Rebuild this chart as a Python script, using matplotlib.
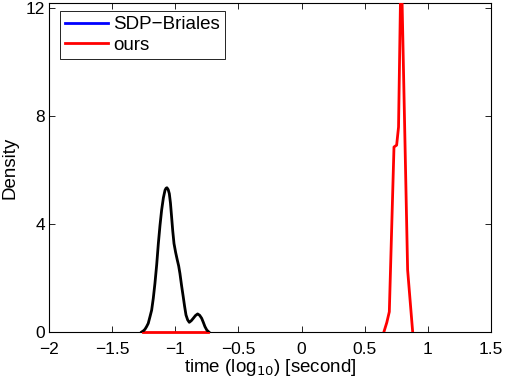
import matplotlib
matplotlib.use("Agg")
import matplotlib.pyplot as plt
from matplotlib.lines import Line2D

plt.rcParams['font.family'] = ['Liberation Sans', 'DejaVu Sans']

# SDP-Briales density (drawn in black)
briales_x = [-1.266, -1.253, -1.240, -1.227, -1.214, -1.200, -1.187, -1.174, -1.161,
             -1.147, -1.134, -1.121, -1.108, -1.094, -1.081, -1.073, -1.066, -1.056,
             -1.047, -1.038, -1.029, -1.020, -1.010, -0.997, -0.984, -0.973, -0.963,
             -0.950, -0.937, -0.926, -0.915, -0.902, -0.889, -0.873, -0.857, -0.840,
             -0.823, -0.807, -0.791, -0.778, -0.765, -0.750, -0.734]
briales_y = [0.0, 0.04, 0.1, 0.2, 0.32, 0.57, 0.81, 1.25, 1.8,
             2.5, 3.28, 3.95, 4.52, 4.98, 5.26, 5.33, 5.35, 5.28,
             5.13, 4.78, 4.27, 3.75, 3.28, 2.95, 2.67, 2.45, 2.17,
             1.72, 1.31, 0.95, 0.63, 0.45, 0.36, 0.42, 0.51, 0.61,
             0.67, 0.62, 0.51, 0.36, 0.2, 0.07, 0.0]

# ours density (red)
ours_x = [0.652, 0.675, 0.695, 0.732, 0.753, 0.768, 0.784, 0.795, 0.840, 0.880]
ours_y = [0.0, 0.35, 0.75, 6.86, 6.93, 7.6, 12.5, 12.5, 2.3, 0.0]

# red zero segment under the black curve
ours_zero_x = [-1.258, -0.74]
ours_zero_y = [0.0, 0.0]

legend_labels = ['SDP\u2212Briales', 'ours']
legend_colors = ['#0000ff', '#ff0000']

xticks = [-2, -1.5, -1, -0.5, 0, 0.5, 1, 1.5]
yticks = [0, 4, 8, 12]

fig = plt.figure(figsize=(5.06, 3.78), dpi=100)
ax = fig.add_axes([0.0968, 0.1217, 0.8735, 0.8703])

ax.plot(ours_zero_x, ours_zero_y, color='#ff0000', lw=2, clip_on=False, zorder=3)
ax.plot(ours_x, ours_y, color='#ff0000', lw=2, zorder=3)
ax.plot(briales_x, briales_y, color='black', lw=2, zorder=4,
        solid_joinstyle='round')

ax.set_xlim(-2, 1.5)
ax.set_ylim(0, 12.2)
ax.set_xticks(xticks)
ax.set_xticklabels([('\u2212' if t < 0 else '') + ('%g' % abs(t)) for t in xticks])
ax.set_yticks(yticks)
ax.tick_params(direction='in', top=True, right=True, length=4, width=0.6,
               labelsize=12.5)
ax.tick_params(axis='x', pad=7)
ax.tick_params(axis='y', pad=3)
for s in ax.spines.values():
    s.set_linewidth(0.8)

ax.set_xlabel('time (log$_{10}$) [second]', fontsize=13.5, labelpad=0)
ax.set_ylabel('Density', fontsize=13.5, labelpad=5)

handles = [Line2D([0], [0], color=c, lw=2) for c in legend_colors]
leg = ax.legend(handles, legend_labels, loc='upper left', fontsize=13.5,
                fancybox=False, framealpha=1, edgecolor='black',
                borderpad=0.25, handlelength=2.3, handletextpad=0.3,
                labelspacing=0.2, borderaxespad=0.3,
                bbox_to_anchor=(0.012, 0.992))
leg.get_frame().set_linewidth(0.6)

fig.savefig('out.png', dpi=100)
